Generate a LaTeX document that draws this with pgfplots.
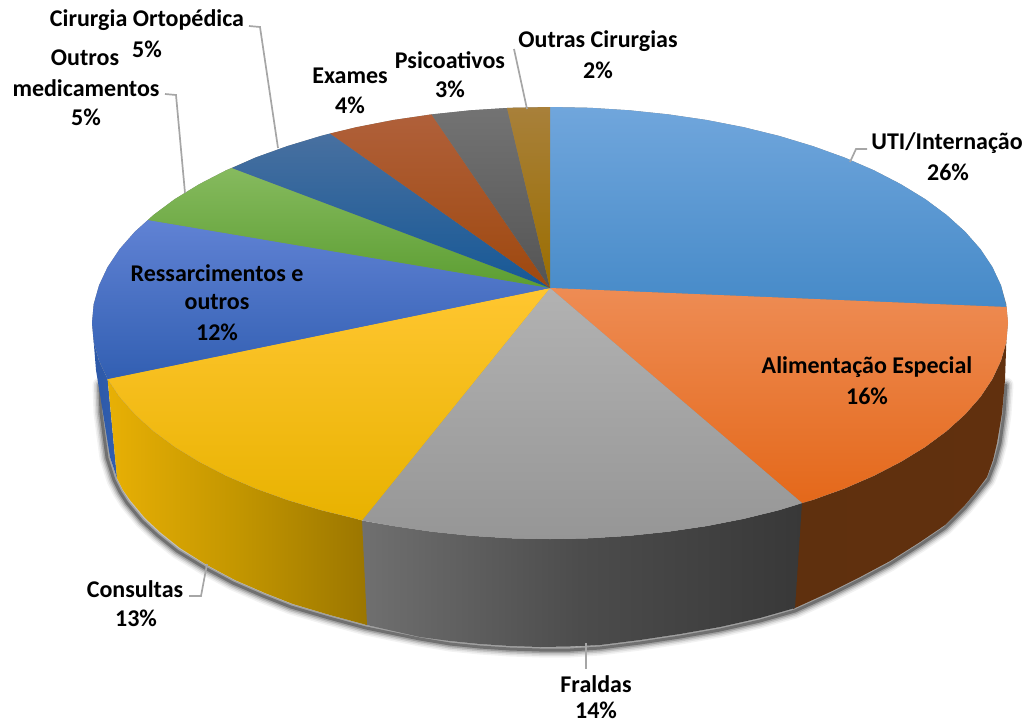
\documentclass[border=0pt]{standalone}
\usepackage{pgfplots}
\pgfplotsset{compat=1.18}
\usepackage{fontspec}
\setmainfont{Carlito}
\definecolor{lead}{HTML}{A6A6A6}
\tikzset{lab/.style={font=\fontsize{24}{24}\selectfont\bfseries,text=black,inner sep=0pt,anchor=center},
 ldr/.style={draw=lead,line width=1.7pt}}
\pgfplotstableread{
x y
100 385
101 413
107 458
114 480
120 492
127 503
142 521
157 535
177 551
205 568
233 583
263 596
291 607
329 618
366 628
420 639
450 644
480 647
510 649
540 650
570 650
600 648
640 643
680 637
720 630
760 621
795 611
830 595
860 580
890 564
920 545
945 528
965 508
975 496
988 480
995 462
1000 443
1004 414
1006 385
}\shadowline
\begin{document}
\begin{tikzpicture}
\begin{axis}[scale only axis,width=1032pt,height=724pt,xmin=0,xmax=1032,ymin=0,ymax=724,y dir=reverse,hide axis,clip=false]
\addplot[draw=none] coordinates {(0,0)(1032,724)};
% soft shadow
\addplot[draw=black,opacity=.05,line width=15pt,line cap=round,line join=round] table {\shadowline};
\addplot[draw=black,opacity=.08,line width=12pt,line cap=round,line join=round] table {\shadowline};
\addplot[draw=black,opacity=.12,line width=9pt,line cap=round,line join=round] table {\shadowline};
\addplot[draw=black,opacity=.18,line width=6pt,line cap=round,line join=round] table {\shadowline};
\addplot[draw=black,opacity=.3,line width=3pt,line cap=round,line join=round] table {\shadowline};
% side walls
\addplot[draw=none,left color={rgb,255:red,44;green,88;blue,168},right color={rgb,255:red,50;green,95;blue,175}] coordinates {(93.7,341.8)(99,360.5)(107.6,379)(117,478)(110,457)(103,413)(96,370)};
\addplot[draw=none,left color={rgb,255:red,95;green,48;blue,14},right color={rgb,255:red,97;green,48;blue,14}] coordinates {(1006.3,341.8)(1001,360.5)(992.4,378.9)(980.4,396.9)(965.1,414.3)(946.6,431)(925.2,446.9)(900.8,461.8)(873.9,475.7)(844.4,488.5)(812.7,499.9)(800,503)(793,609)(795,608)(830,592)(860,577)(890,561)(920,542)(945,525)(965,505)(975,493)(987,477)(993,460)(997,443)(1002,413)(1005,380)};
\addplot[draw=none,left color={rgb,255:red,112;green,112;blue,112},right color={rgb,255:red,56;green,56;blue,56},middle color={rgb,255:red,76;green,76;blue,76}] coordinates {(802,503)(779,510.1)(743.6,518.8)(706.6,526)(668.5,531.6)(629.5,535.7)(589.9,538.2)(550,539)(510.1,538.2)(470.5,535.7)(431.5,531.6)(393.4,526)(362,520.5)(360,520)(365,624.5)(367,625)(420,637)(450,641)(480,644)(510,646)(540,647)(570,646.5)(600,645)(640,640)(680,634)(720,627)(760,618)(795,608)};
\addplot[draw=none,left color={rgb,255:red,232;green,176;blue,5},right color={rgb,255:red,155;green,118;blue,0},middle color={rgb,255:red,195;green,150;blue,0}] coordinates {(362,520.5)(356.4,518.8)(321,510.1)(287.3,499.9)(255.6,488.5)(226.1,475.7)(199.2,461.8)(174.8,446.9)(153.4,431)(134.9,414.3)(119.6,396.9)(107.6,379)(117,478)(123,490)(130,500)(145,518)(160,532)(180,548)(207,565)(235,580)(265,593)(293,604)(330,615)(367,625)};
% backing under the top slices, so that no light seam shows between them
\addplot[draw=none,fill=gray] coordinates {(550,107)(589.9,107.8)(629.5,110.3)(668.5,114.4)(706.6,120)(743.6,127.2)(779,135.9)(812.7,146.1)(844.4,157.5)(873.9,170.3)(900.8,184.2)(925.2,199.1)(946.6,215)(965.1,231.7)(980.4,249.1)(992.4,267.1)(1001,285.5)(1006.3,304.2)(1008,323)(1006.3,341.8)(1001,360.5)(992.4,378.9)(980.4,396.9)(965.1,414.3)(946.6,431)(925.2,446.9)(900.8,461.8)(873.9,475.7)(844.4,488.5)(812.7,499.9)(779,510.1)(743.6,518.8)(706.6,526)(668.5,531.6)(629.5,535.7)(589.9,538.2)(550,539)(510.1,538.2)(470.5,535.7)(431.5,531.6)(393.4,526)(356.4,518.8)(321,510.1)(287.3,499.9)(255.6,488.5)(226.1,475.7)(199.2,461.8)(174.8,446.9)(153.4,431)(134.9,414.3)(119.6,396.9)(107.6,378.9)(99,360.5)(93.7,341.8)(92,323)(93.7,304.2)(99,285.5)(107.6,267.1)(119.6,249.1)(134.9,231.7)(153.4,215)(174.8,199.1)(199.2,184.2)(226.1,170.3)(255.6,157.5)(287.3,146.1)(321,135.9)(356.4,127.2)(393.4,120)(431.5,114.4)(470.5,110.3)(510.1,107.8)};
% top slices
\addplot[draw=none,top color={rgb,255:red,112;green,166;blue,220},middle color={rgb,255:red,84;green,152;blue,216},bottom color={rgb,255:red,70;green,138;blue,200}] coordinates {(550,288)(550,107)(589.9,107.8)(629.5,110.3)(668.5,114.4)(706.6,120)(743.6,127.2)(779,135.9)(812.7,146.1)(844.4,157.5)(873.9,170.3)(900.8,184.2)(925.2,199.1)(946.6,215)(965.1,231.7)(980.4,249.1)(992.4,267.1)(1001,285.5)(1006.5,307)};
\addplot[draw=none,top color={rgb,255:red,238;green,140;blue,84},middle color={rgb,255:red,243;green,122;blue,42},bottom color={rgb,255:red,228;green,104;blue,26}] coordinates {(550,288)(1006.5,307)(1008,323)(1006.3,341.8)(1001,360.5)(992.4,378.9)(980.4,396.9)(965.1,414.3)(946.6,431)(925.2,446.9)(900.8,461.8)(873.9,475.7)(844.4,488.5)(812.7,499.9)(802,503)};
\addplot[draw=none,top color={rgb,255:red,178;green,178;blue,178},middle color={rgb,255:red,165;green,165;blue,165},bottom color={rgb,255:red,150;green,150;blue,150}] coordinates {(550,288)(802,503)(779,510.1)(743.6,518.8)(706.6,526)(668.5,531.6)(629.5,535.7)(589.9,538.2)(550,539)(510.1,538.2)(470.5,535.7)(431.5,531.6)(393.4,526)(362,520.5)};
\addplot[draw=none,top color={rgb,255:red,255;green,198;blue,48},middle color={rgb,255:red,254;green,192;blue,0},bottom color={rgb,255:red,232;green,178;blue,0}] coordinates {(550,288)(362,520.5)(356.4,518.8)(321,510.1)(287.3,499.9)(255.6,488.5)(226.1,475.7)(199.2,461.8)(174.8,446.9)(153.4,431)(134.9,414.3)(119.6,396.9)(107.6,379)};
\addplot[draw=none,top color={rgb,255:red,96;green,130;blue,212},middle color={rgb,255:red,60;green,104;blue,198},bottom color={rgb,255:red,50;green,95;blue,178}] coordinates {(550,288)(107.6,379)(99,360.5)(93.7,341.8)(92,323)(93.7,304.2)(99,285.5)(107.6,267.1)(119.6,249.1)(134.9,231.7)(148,220)};
\addplot[draw=none,top color={rgb,255:red,134;green,186;blue,94},middle color={rgb,255:red,112;green,173;blue,71},bottom color={rgb,255:red,92;green,158;blue,50}] coordinates {(550,288)(148,220)(153.4,215)(174.8,199.1)(199.2,184.2)(226.1,170.3)(232,168)};
\addplot[draw=none,top color={rgb,255:red,72;green,112;blue,160},middle color={rgb,255:red,38;green,94;blue,145},bottom color={rgb,255:red,22;green,88;blue,150}] coordinates {(550,288)(232,168)(255.6,157.5)(287.3,146.1)(321,135.9)(330,133.5)};
\addplot[draw=none,top color={rgb,255:red,176;green,96;blue,58},middle color={rgb,255:red,168;green,78;blue,25},bottom color={rgb,255:red,158;green,72;blue,14}] coordinates {(550,288)(330,133.5)(356.4,127.2)(393.4,120)(431.5,114.4)};
\addplot[draw=none,top color={rgb,255:red,115;green,115;blue,115},middle color={rgb,255:red,99;green,99;blue,99},bottom color={rgb,255:red,84;green,84;blue,84}] coordinates {(550,288)(431.5,114.4)(470.5,110.3)(507,108)};
\addplot[draw=none,top color={rgb,255:red,168;green,128;blue,58},middle color={rgb,255:red,160;green,115;blue,20},bottom color={rgb,255:red,155;green,110;blue,0}] coordinates {(550,288)(507,108)(510.1,107.8)(550,107)};
% leader lines
\addplot[ldr] coordinates {(249,26)(260,27)(278,148)};
\addplot[ldr] coordinates {(165,94)(176,95)(185,193)};
\addplot[ldr] coordinates {(514,49)(527,109)};
\addplot[ldr] coordinates {(850,162)(856,149)(867,149)};
\addplot[ldr] coordinates {(189,596)(201,596)(207,564)};
\addplot[ldr] coordinates {(586,643)(586,669)};
% labels
\node[lab] at (axis cs:947,143) {UTI/Internação};
\node[lab] at (axis cs:948,172) {26\%};
\node[lab] at (axis cs:867,367) {Alimentação Especial};
\node[lab] at (axis cs:867,396) {16\%};
\node[lab] at (axis cs:596,684) {Fraldas};
\node[lab] at (axis cs:596,710) {14\%};
\node[lab] at (axis cs:135,589) {Consultas};
\node[lab] at (axis cs:136,618) {13\%};
\node[lab] at (axis cs:217,273) {Ressarcimentos e};
\node[lab] at (axis cs:217,302) {outros};
\node[lab] at (axis cs:217,332) {12\%};
\node[lab] at (axis cs:85,58) {Outros};
\node[lab] at (axis cs:86,88) {medicamentos};
\node[lab] at (axis cs:86,117) {5\%};
\node[lab] at (axis cs:147,20) {Cirurgia Ortopédica};
\node[lab] at (axis cs:147,49) {5\%};
\node[lab] at (axis cs:350,76) {Exames};
\node[lab] at (axis cs:350,105) {4\%};
\node[lab] at (axis cs:450,60) {Psicoativos};
\node[lab] at (axis cs:450,89) {3\%};
\node[lab] at (axis cs:598,41) {Outras Cirurgias};
\node[lab] at (axis cs:598,70) {2\%};
\end{axis}
\end{tikzpicture}
\end{document}
